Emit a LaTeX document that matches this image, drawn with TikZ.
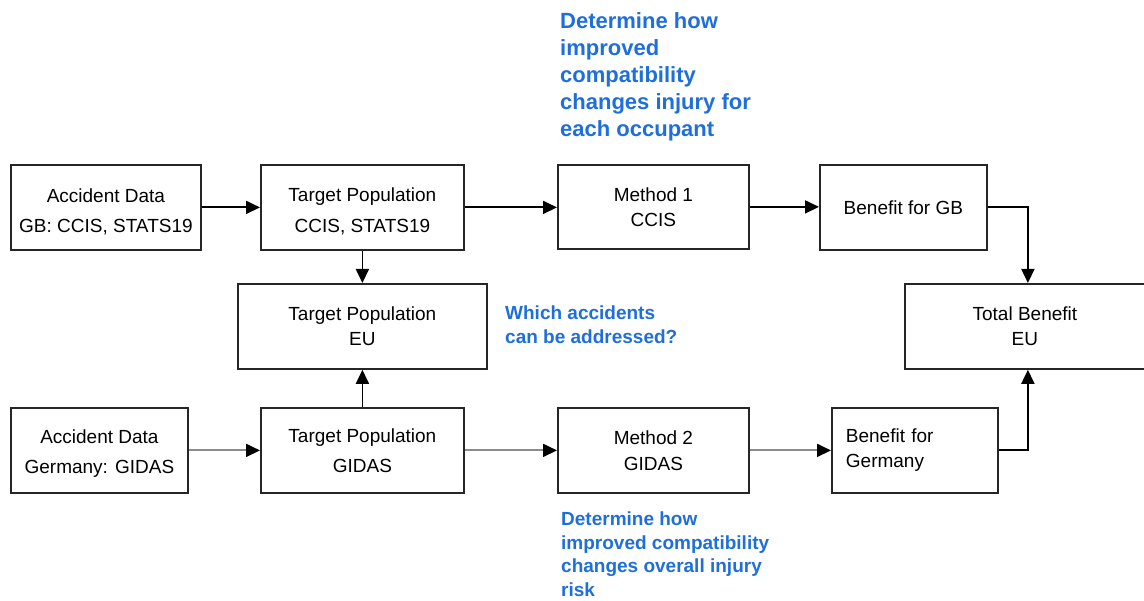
\documentclass[tikz,border=0pt]{standalone}
\usepackage{fontspec}
\setmainfont{Liberation Sans}
\usetikzlibrary{arrows.meta}
\definecolor{bluetxt}{RGB}{30,110,220}
\definecolor{lowline}{RGB}{140,140,140}
\begin{document}
\begin{tikzpicture}[x=1pt,y=-1pt,
 box/.style={draw=black!85, line width=1.8pt, anchor=north west, inner sep=0pt, align=center, font=\fontsize{19}{25}\selectfont},
 conn/.style={line width=1.8pt, -{Triangle[length=14pt,width=13pt]}},
 lowconn/.style={line width=1.8pt, draw=lowline, -{Triangle[length=14pt,width=13pt,color=black]}},
 note/.style={anchor=north west, inner sep=0pt, align=left, text=bluetxt, font=\bfseries\fontsize{19}{23.5}\selectfont}]
\useasboundingbox (0,0) rectangle (1144,601);

\node[box, minimum width=190pt, minimum height=85pt] (adgb) at (10,164) {\rule{0pt}{22pt}Accident Data\\[5pt]GB: CCIS, STATS19};
\node[box, minimum width=203pt, minimum height=85pt] (tpccis) at (260,164) {\rule{0pt}{22pt}Target Population\\[6pt]CCIS, STATS19};
\node[box, minimum width=191pt, minimum height=84pt] (m1) at (557,164) {Method 1\\CCIS};
\node[box, minimum width=167pt, minimum height=85pt] (bgb) at (819,164) {Benefit for GB};
\node[box, minimum width=249pt, minimum height=85pt] (tpeu) at (237,283) {Target Population\\EU};
\node[box, minimum width=240pt, minimum height=85pt] (total) at (904,283) {Total Benefit\\EU};
\node[box, minimum width=177pt, minimum height=85pt] (adde) at (10,407) {\rule{0pt}{20pt}Accident Data\\[5pt]Germany: GIDAS};
\node[box, minimum width=203pt, minimum height=85pt] (tpgidas) at (260,407) {Target Population\\[5pt]GIDAS};
\node[box, minimum width=191pt, minimum height=85pt] (m2) at (557,407) {Method 2\\[1pt]GIDAS};
\node[box, minimum height=85pt, text width=138pt, inner xsep=14pt, align=left] (bde) at (831,407) {Benefit for\\Germany};

\node[note, font=\bfseries\fontsize{22}{27}\selectfont] (n1) at (560,12) {Determine how\\improved\\compatibility\\changes injury for\\each occupant};
\node[note] (n2) at (505,306) {Which accidents\\can be addressed?};
\node[note] (n3) at (561,512) {Determine how\\improved compatibility\\changes overall injury\\risk};

\draw[conn] (adgb.east) -- (adgb.east -| tpccis.west);
\draw[conn] (tpccis.east) -- (tpccis.east -| m1.west);
\draw[conn] (m1.east) -- (m1.east -| bgb.west);
\draw[conn] (bgb.east) -| ([xshift=3pt]total.north);
\draw[conn] (tpccis.south) -- (tpccis.south |- tpeu.north);
\draw[conn] (tpgidas.north) -- (tpgidas.north |- tpeu.south);
\draw[lowconn] (adde.east) -- (adde.east -| tpgidas.west);
\draw[lowconn] (tpgidas.east) -- (tpgidas.east -| m2.west);
\draw[lowconn] (m2.east) -- (m2.east -| bde.west);
\draw[conn] (bde.east) -| ([xshift=3pt]total.south);
\end{tikzpicture}
\end{document}
